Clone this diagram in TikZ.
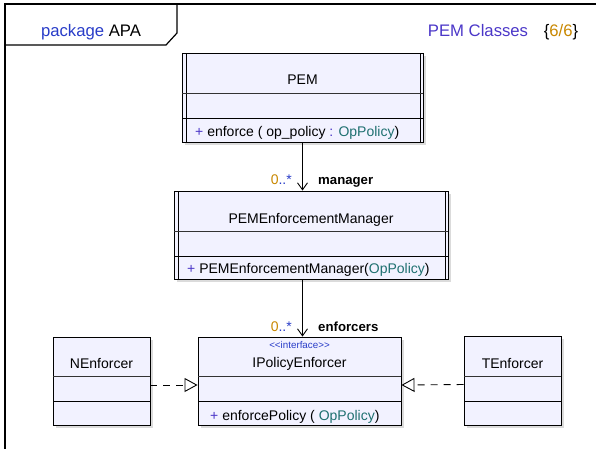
\documentclass[tikz,border=0pt]{standalone}
\usepackage{fontspec}
\setmainfont{Liberation Sans}
\usetikzlibrary{arrows.meta,shadows}
\definecolor{boxfill}{RGB}{242,242,255}
\definecolor{kwblue}{RGB}{40,60,200}
\definecolor{titleblue}{RGB}{75,55,200}
\definecolor{typeteal}{RGB}{30,112,112}
\definecolor{multorange}{RGB}{200,135,0}
\tikzset{
  frameline/.style={line width=1.2pt},
  header/.style={font=\fontsize{16.7}{19}\selectfont,anchor=base,inner sep=0pt},
  classbox/.style={draw,line width=0.9pt,fill=boxfill,inner sep=0pt,
    drop shadow={shadow xshift=3pt,shadow yshift=-3pt,fill=black!28}},
  cname/.style={font=\fontsize{14}{16}\selectfont,anchor=base,inner sep=0pt},
  cop/.style={cname,anchor=base west},
  stereo/.style={font=\fontsize{9.8}{11}\selectfont,anchor=base,inner sep=0pt,text=kwblue},
  endlabel/.style={font=\fontsize{13.2}{15}\selectfont\bfseries,anchor=base west,inner sep=0pt},
  multlabel/.style={font=\fontsize{14}{16}\selectfont,anchor=base east,inner sep=0pt},
  assoc/.style={line width=0.9pt,-{Straight Barb[length=7pt,width=10pt]}},
  realize/.style={line width=0.9pt,dash pattern=on 7pt off 6pt,
    -{Triangle[open,length=13pt,width=14pt,fill=white]}}
}
\newcommand{\plus}{{\color{titleblue}+}}
\newcommand{\mult}{{\color{multorange}0}{\color{kwblue}..*}}

\begin{document}
\begin{tikzpicture}[x=1pt,y=-1pt]
\useasboundingbox (0,0) rectangle (596,448);
% package frame
\draw[frameline] (5,460) -- (5,4) -- (610,4);
\draw[frameline] (5,45) -- (166,45) -- (177,33) -- (177,4);
\node[header] (pkg) at (91,36) {{\color{kwblue}package} APA};
\node[header] (title) at (478,36) {\color{titleblue}PEM Classes};
\node[header] (pagenum) at (561,36) {\{{\color{multorange}6/6}\}};

% PEM
\node[classbox,minimum width=241pt,minimum height=89pt] (pem) at (302.5,97.5) {};
\draw[line width=0.9pt] (186,53) -- (186,142);
\draw[line width=0.9pt] (420,53) -- (420,142);
\draw[black!80] (182,93) -- (423,93);
\draw (182,118) -- (423,118);
\node[cname] (pemname) at (302.5,84) {PEM};
\node[cop] (pemop) at (195,136) {\plus{} enforce ( op\_policy {\color{titleblue}:} {\color{typeteal}OpPolicy})};

% PEMEnforcementManager
\node[classbox,minimum width=274pt,minimum height=88pt] (pemm) at (311,235) {};
\draw[line width=0.9pt] (178,191) -- (178,279);
\draw[line width=0.9pt] (445,191) -- (445,279);
\draw[black!80] (174,231) -- (448,231);
\draw (174,256) -- (448,256);
\node[cname] (pemmname) at (311,223) {PEMEnforcementManager};
\node[cop] (pemmop) at (187,273) {\plus{} PEMEnforcementManager({\color{typeteal}OpPolicy})};

% IPolicyEnforcer
\node[classbox,minimum width=203pt,minimum height=88pt] (ipe) at (299.5,381) {};
\draw[black!80] (198,376) -- (401,376);
\draw (198,401) -- (401,401);
\node[stereo] (ipestereo) at (299.5,348) {{<}{<}interface{>}{>}};
\node[cname] (ipename) at (299.5,367) {IPolicyEnforcer};
\node[cop] (ipeop) at (210,420) {\plus{} enforcePolicy ( {\color{typeteal}OpPolicy})};

% NEnforcer
\node[classbox,minimum width=97pt,minimum height=88pt] (nenf) at (101.5,381) {};
\draw[black!80] (53,376) -- (150,376);
\draw (53,401) -- (150,401);
\node[cname] (nenfname) at (101.5,368) {NEnforcer};

% TEnforcer
\node[classbox,minimum width=97pt,minimum height=89pt] (tenf) at (512.5,380.5) {};
\draw[black!80] (464,376) -- (561,376);
\draw (464,401) -- (561,401);
\node[cname] (tenfname) at (512.5,368) {TEnforcer};

% associations
\draw[assoc] (pem.south) -- (pem.south |- pemm.north);
\node[multlabel] (m1) at (292,184) {\mult};
\node[endlabel] (r1) at (318,184) {manager};
\draw[assoc] (pem.south |- pemm.south) -- (pem.south |- ipe.north);
\node[multlabel] (m2) at (292,331) {\mult};
\node[endlabel] (r2) at (318,331) {enforcers};

% realizations
\draw[realize] ([yshift=-4pt]nenf.east) -- ([yshift=-4pt]ipe.west);
\draw[realize] ([yshift=-4pt]tenf.west) -- ([yshift=-4pt]ipe.east);
\end{tikzpicture}
\end{document}
